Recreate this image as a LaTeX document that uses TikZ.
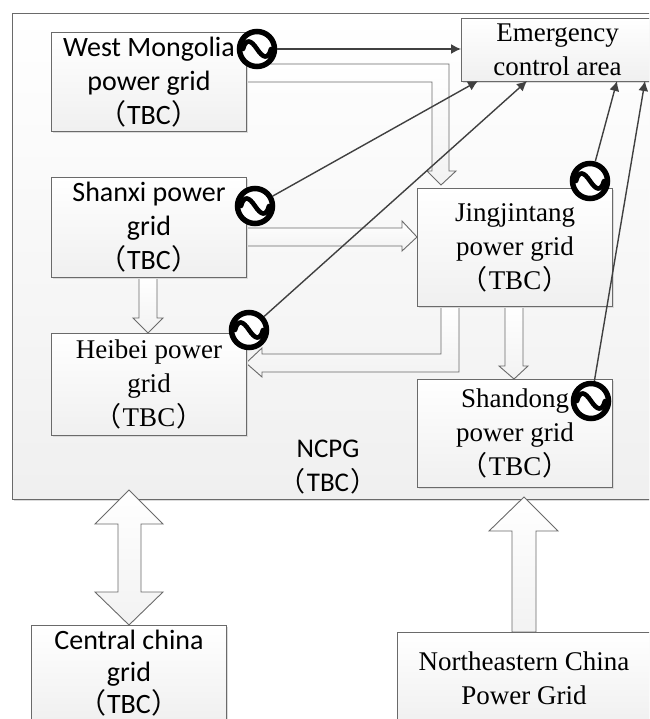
\documentclass[tikz,border=0pt]{standalone}
\usepackage{fontspec}
\usetikzlibrary{shadows,arrows.meta}
\setmainfont{Liberation Serif}
\newfontfamily\calfont{Carlito}
\newfontfamily\cjkfont{Noto Sans CJK SC}
\newcommand{\tbc}{{\cjkfont （}\kern1pt TBC\kern1pt{\cjkfont ）}}
\definecolor{edge}{HTML}{6A6A6A}
\definecolor{dark}{HTML}{404040}
\tikzset{
  x=1pt,y=-1pt,
  grid box/.style={draw=edge,line width=1pt,top color=white,bottom color=black!6,
    general shadow={fill=black!14,shadow xshift=1.5pt,shadow yshift=-1.5pt},
    align=center,inner sep=0pt,font=\fontsize{27}{34}\selectfont,anchor=north west},
  sans box/.style={grid box,font=\calfont\fontsize{28}{34}\selectfont},
  block/.style={draw=edge,line width=0.9pt,top color=white,bottom color=black!5,line join=miter},
  tie/.style={draw=dark,line width=1.4pt,-{Latex[length=10pt,width=10pt]}},
  gen/.style={circle,draw=black,line width=5.5pt,fill=white,minimum size=35pt,inner sep=0pt},
  wave/.style={draw=black,line width=4.6pt,line cap=round}
}
\newcommand{\wave}[1]{\draw[wave] ([xshift=-14pt]#1.center) .. controls +(3,-11) and +(-6,-9) .. (#1.center) .. controls +(6,9) and +(-3,11) .. ([xshift=14pt]#1.center);}
\begin{document}
\begin{tikzpicture}
\useasboundingbox (0,0) rectangle (649,719);
\clip (0,0) rectangle (649,719);
% outer
\node[sans box,minimum width=650pt,minimum height=486pt,draw=edge] (ncpg) at (12,13) {};
\node[font=\calfont\fontsize{27}{34}\selectfont,align=center] (ncpgt) at (328,467) {NCPG\\\tbc};
% block arrows
\path[block] (246,64) -- (449,64) -- (449,171) -- (456,171) -- (441,185) -- (427,171) -- (432,171) -- (432,82) -- (246,82) -- cycle;
\path[block] (246,228) -- (402,228) -- (402,221) -- (417,237) -- (402,251) -- (402,246) -- (246,246) -- cycle;
\path[block] (139,277) -- (157,277) -- (157,318) -- (163,318) -- (148,333) -- (133,318) -- (139,318) -- cycle;
\path[block] (441,306) -- (441,354) -- (262,354) -- (262,348) -- (246,363) -- (262,377) -- (262,372) -- (459,372) -- (459,306) -- cycle;
\path[block] (505,306) -- (523,306) -- (523,366) -- (528,366) -- (514,379) -- (499,366) -- (505,366) -- cycle;
\path[block] (129,490) -- (163,524) -- (141,524) -- (141,592) -- (163,592) -- (129,625) -- (95,592) -- (118,592) -- (118,524) -- (95,524) -- cycle;
\path[block] (524,497) -- (558,531) -- (536,531) -- (536,632) -- (512,632) -- (512,531) -- (489,531) -- cycle;
% boxes
\node[sans box,minimum width=195pt,minimum height=99pt] (wm) at (51,32) {West Mongolia\\power grid\\\tbc};
\node[grid box,minimum width=192pt,minimum height=63pt] (em) at (461,18) {Emergency\\control area};
\node[sans box,minimum width=195pt,minimum height=100pt] (sx) at (51,177) {Shanxi power\\grid\\\tbc};
\node[grid box,minimum width=195pt,minimum height=102pt] (hb) at (51,333) {Heibei power\\grid\\\tbc};
\node[grid box,minimum width=195pt,minimum height=118pt] (jj) at (417,188) {Jingjintang\\power grid\\\tbc};
\node[grid box,minimum width=195pt,minimum height=108pt] (sd) at (417,379) {Shandong\\power grid\\\tbc};
\node[sans box,font=\calfont\fontsize{28}{32}\selectfont,minimum width=195pt,minimum height=96pt] (cc) at (31,625) {Central china\\grid\\\tbc};
\node[grid box,minimum width=254pt,minimum height=92pt] (ne) at (396.5,632) {Northeastern China\\Power Grid};
% generators
\node[gen] (g1) at (257,49) {};
\node[gen] (g2) at (255,206) {};
\node[gen] (g3) at (249,330) {};
\node[gen] (g4) at (590,181) {};
\node[gen] (g5) at (591,401) {};
\coordinate (e1) at (461,49);
\coordinate (e2) at (478,81);
\coordinate (e3) at (527,81);
\coordinate (e4) at (617,81);
\coordinate (e5) at (645,81);
\draw[tie] (g1) -- (e1);
\draw[tie] (g2) -- (e2);
\draw[tie] (g3) -- (e3);
\draw[tie] (g4) -- (e4);
\draw[tie] (g5) -- (e5);
\foreach \g in {g1,g2,g3,g4,g5}{\wave{\g}}
\end{tikzpicture}
\end{document}
